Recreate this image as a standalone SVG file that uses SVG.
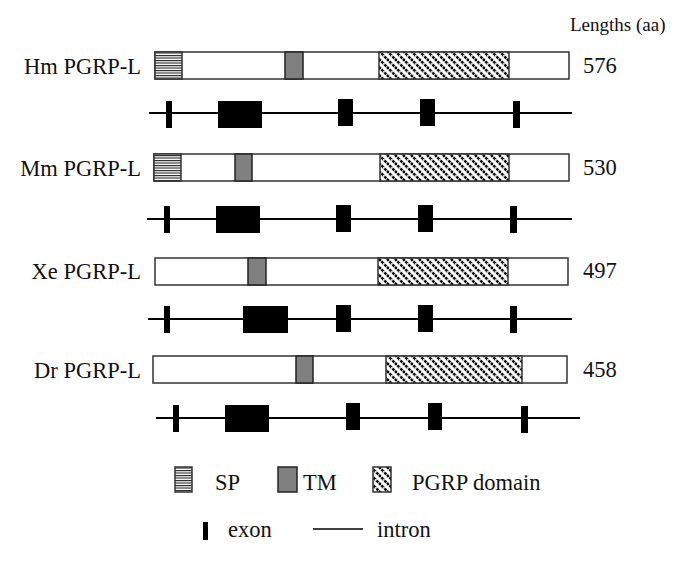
<svg xmlns="http://www.w3.org/2000/svg" width="684" height="561" viewBox="0 0 684 561">
<defs>
<pattern id="sp" width="4" height="2.5" patternUnits="userSpaceOnUse">
<rect width="4" height="2.5" fill="#fff"/>
<rect y="0" width="4" height="1.1" fill="#222"/>
</pattern>
<pattern id="pg" width="8" height="8" patternUnits="userSpaceOnUse">
<rect width="8" height="8" fill="#fff"/>
<path d="M-2,-2 L10,10 M-2,6 L2,10 M6,-2 L10,2" stroke="#000" stroke-width="2.4" stroke-dasharray="2.6 0.9"/>
</pattern>
<style>
text{font-family:"Liberation Serif","Times New Roman",serif;fill:#111}
.box{fill:#fff;stroke:#333;stroke-width:1.5}
.sp{fill:url(#sp);stroke:#333;stroke-width:1.5}
.tm{fill:#808080;stroke:#222;stroke-width:1.5}
.pg{fill:url(#pg);stroke:#333;stroke-width:1.5}
.ln{stroke:#000;stroke-width:2}
.ex{fill:#000}
</style>
</defs>
<g font-family="Liberation Serif, Times New Roman, serif" font-size="22.5">
<text x="570" y="31" font-size="19">Lengths (aa)</text>

<g id="hm">
<text x="141" y="74" text-anchor="end">Hm PGRP-L</text>
<rect class="box" x="155" y="52" width="414" height="27"/>
<rect class="sp" x="155" y="52" width="27" height="27"/>
<rect class="tm" x="285" y="52" width="18" height="27"/>
<rect class="pg" x="379" y="52" width="130" height="27"/>
<text x="583" y="73">576</text>
</g>
<g id="hm-gene">
<line class="ln" x1="149" y1="113" x2="572" y2="113"/>
<rect class="ex" x="166" y="101" width="6" height="27"/>
<rect class="ex" x="218" y="101" width="44" height="27"/>
<rect class="ex" x="338" y="99" width="15" height="27"/>
<rect class="ex" x="420" y="99" width="15" height="27"/>
<rect class="ex" x="513" y="101" width="7" height="27"/>
</g>

<g id="mm">
<text x="141" y="176" text-anchor="end">Mm PGRP-L</text>
<rect class="box" x="154" y="154" width="415" height="27"/>
<rect class="sp" x="154" y="154" width="27" height="27"/>
<rect class="tm" x="235" y="154" width="17" height="27"/>
<rect class="pg" x="380" y="154" width="129" height="27"/>
<text x="583" y="175">530</text>
</g>
<g id="mm-gene">
<line class="ln" x1="147" y1="219" x2="572" y2="219"/>
<rect class="ex" x="164" y="206" width="6" height="27"/>
<rect class="ex" x="216" y="206" width="44" height="27"/>
<rect class="ex" x="336" y="205" width="15" height="27"/>
<rect class="ex" x="418" y="205" width="15" height="27"/>
<rect class="ex" x="510" y="206" width="7" height="27"/>
</g>

<g id="xe">
<text x="141" y="279" text-anchor="end">Xe PGRP-L</text>
<rect class="box" x="155" y="258" width="413" height="27"/>
<rect class="tm" x="248" y="258" width="18" height="27"/>
<rect class="pg" x="378" y="258" width="130" height="27"/>
<text x="583" y="278">497</text>
</g>
<g id="xe-gene">
<line class="ln" x1="148" y1="319" x2="572" y2="319"/>
<rect class="ex" x="164" y="306" width="6" height="27"/>
<rect class="ex" x="243" y="306" width="45" height="27"/>
<rect class="ex" x="336" y="305" width="15" height="27"/>
<rect class="ex" x="418" y="305" width="15" height="27"/>
<rect class="ex" x="510" y="306" width="7" height="27"/>
</g>

<g id="dr">
<text x="141" y="378" text-anchor="end">Dr PGRP-L</text>
<rect class="box" x="153" y="356" width="414" height="27"/>
<rect class="tm" x="296" y="356" width="17" height="27"/>
<rect class="pg" x="386" y="356" width="136" height="27"/>
<text x="583" y="377">458</text>
</g>
<g id="dr-gene">
<line class="ln" x1="156" y1="418" x2="580" y2="418"/>
<rect class="ex" x="173" y="405" width="6" height="27"/>
<rect class="ex" x="225" y="405" width="44" height="27"/>
<rect class="ex" x="346" y="403" width="14" height="27"/>
<rect class="ex" x="428" y="403" width="14" height="27"/>
<rect class="ex" x="521" y="406" width="7" height="27"/>
</g>

<g id="legend">
<rect class="sp" x="175" y="467" width="17" height="25"/>
<text x="215" y="490">SP</text>
<rect class="tm" x="278" y="467" width="19" height="25"/>
<text x="303" y="490">TM</text>
<rect class="pg" x="373" y="467" width="18" height="25"/>
<text x="412" y="490">PGRP domain</text>
<rect class="ex" x="203" y="522" width="5" height="18"/>
<text x="228" y="537">exon</text>
<line class="ln" x1="313" y1="529" x2="363" y2="529" style="stroke-width:1.5"/>
<text x="377" y="537">intron</text>
</g>
</g>
</svg>
